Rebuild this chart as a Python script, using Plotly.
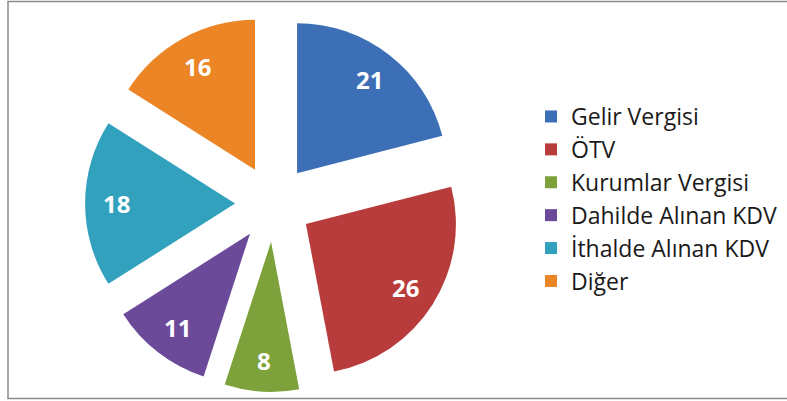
import math
import plotly.graph_objects as go

labels = ["Gelir Vergisi", "ÖTV", "Kurumlar Vergisi", "Dahilde Alınan KDV", "İthalde Alınan KDV", "Diğer"]
values = [21, 26, 8, 11, 18, 16]
colors = ["#3c6fb6", "#b83c3b", "#7ea23b", "#6b4a9a", "#32a1be", "#ec8526"]

W, H = 787, 401
cx, cy = 273.5, 203.5          # pie centre in pixels
pull = 0.256
r = 150.0                      # slice radius in pixels
half = r * (1 + pull)
label_frac = 0.79              # value labels at this fraction of radius from slice apex

fig = go.Figure(go.Pie(
    labels=labels,
    values=values,
    sort=False,
    direction="clockwise",
    rotation=0,
    pull=[pull] * len(values),
    marker=dict(colors=colors, line=dict(width=0)),
    textinfo="none",
    domain=dict(x=[(cx - half) / W, (cx + half) / W], y=[1 - (cy + half) / H, 1 - (cy - half) / H]),
    hoverinfo="label+value",
))

total = sum(values)
cum = 0
for v in values:
    mid = (cum + v / 2) / total * 2 * math.pi
    cum += v
    dist = pull * r + label_frac * r
    px = cx + dist * math.sin(mid)
    py = cy - dist * math.cos(mid)
    fig.add_annotation(x=px / W, y=1 - py / H, xref="paper", yref="paper",
                       xanchor="center", yanchor="middle",
                       text=f"<b>{v}</b>", showarrow=False,
                       font=dict(family="Open Sans", size=24, color="white"))

fig.add_shape(type="rect", xref="paper", yref="paper",
              x0=8 / W, x1=1.02, y0=1 - 398.5 / H, y1=1 - 1.5 / H,
              line=dict(color="#8c8c8c", width=1.5), fillcolor="rgba(0,0,0,0)", layer="below")

fig.update_layout(
    width=W, height=H,
    margin=dict(l=0, r=0, t=0, b=0),
    paper_bgcolor="white",
    plot_bgcolor="white",
    showlegend=True,
    legend=dict(x=531 / W, xanchor="left", y=1 - 199 / H, yanchor="middle",
                font=dict(family="Open Sans", size=23, color="#1a1a1a"),
                bgcolor="rgba(0,0,0,0)", traceorder="normal"),
)

fig.write_html("out.html", config={"displayModeBar": False},
               post_script="document.body.style.margin='0';document.body.style.overflow='hidden';")
